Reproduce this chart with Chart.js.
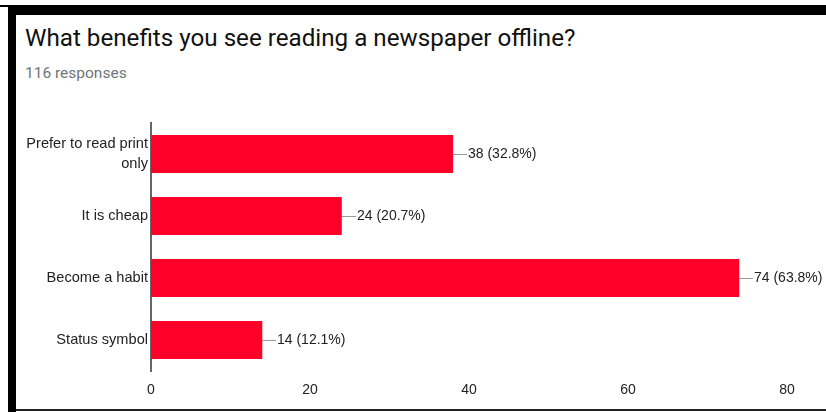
<!DOCTYPE html>
<html>
<head>
<meta charset="utf-8">
<script src="https://cdn.jsdelivr.net/npm/chart.js@4.4.0/dist/chart.umd.min.js"></script>
<style>
  html, body { margin: 0; padding: 0; background: #fff; width: 826px; height: 412px; overflow: hidden; }
  body { position: relative; }
  .frame-top { position: absolute; left: 8px; top: 5px; width: 818px; height: 10px; background: #000; }
  .frame-tick { position: absolute; left: 0; top: 5px; width: 8px; height: 2px; background: #000; }
  .frame-left { position: absolute; left: 8px; top: 5px; width: 8px; height: 407px; background: #000; }
  .frame-bottom { position: absolute; left: 16px; top: 409px; width: 810px; height: 2px; background: #222; }
  .card { position: absolute; left: 16px; top: 15px; width: 810px; height: 394px; background: #fff; border-top-left-radius: 7px; }
  .title { position: absolute; left: 25px; top: 26px; font: 400 24.2px/24px Roboto, "Noto Sans", sans-serif; color: #111; white-space: nowrap; }
  .subtitle { position: absolute; left: 25px; top: 66px; font: 400 15.5px/15.5px Roboto, "Noto Sans", sans-serif; color: #70757a; white-space: nowrap; }
  canvas { position: absolute; left: 0; top: 0; }
</style>
</head>
<body>
<div class="frame-top"></div>
<div class="frame-tick"></div>
<div class="frame-left"></div>
<div class="frame-bottom"></div>
<div class="card"></div>
<div class="title">What benefits you see reading a newspaper offline?</div>
<div class="subtitle">116 responses</div>
<canvas id="chart" width="826" height="412"></canvas>
<script>
// Survey answers and their counts
const categories = [
  ['Prefer to read print', 'only'],
  'It is cheap',
  'Become a habit',
  'Status symbol'
];
const counts = [38, 24, 74, 14];
const totalResponses = 116;
const xTicks = [0, 20, 40, 60, 80];

const BAR_RED = '#ff0029';
const TEXT = '#222222';
const FAMILY = '"Liberation Sans", Arial, sans-serif';
const LABEL_FONT = { family: FAMILY, size: 14 };
const TICK_FONT = { family: FAMILY, size: 14.6, lineHeight: 1.4 };

// Leader line plus "count (percent)" to the right of each bar
const valueLabels = {
  id: 'valueLabels',
  afterDatasetsDraw(chart) {
    const ctx = chart.ctx;
    const meta = chart.getDatasetMeta(0);
    ctx.save();
    ctx.font = `${LABEL_FONT.size}px ${LABEL_FONT.family}`;
    ctx.textBaseline = 'middle';
    ctx.textAlign = 'left';
    meta.data.forEach((bar, i) => {
      const v = counts[i];
      const pct = (v / totalResponses * 100).toFixed(1);
      const x = Math.round(bar.x);
      const y = Math.round(bar.y) + 0.5;
      ctx.strokeStyle = '#999999';
      ctx.lineWidth = 1;
      ctx.beginPath();
      ctx.moveTo(x, y);
      ctx.lineTo(x + 14, y);
      ctx.stroke();
      ctx.fillStyle = TEXT;
      ctx.fillText(`${v} (${pct}%)`, x + 15, y);
    });
    ctx.restore();
  }
};

new Chart(document.getElementById('chart'), {
  type: 'bar',
  data: {
    labels: categories,
    datasets: [{
      data: counts,
      backgroundColor: BAR_RED,
      borderWidth: 0,
      barPercentage: 0.613,
      categoryPercentage: 1.0
    }]
  },
  options: {
    indexAxis: 'y',
    responsive: false,
    animation: false,
    devicePixelRatio: 1,
    layout: { padding: { top: 123, right: 39, bottom: 0, left: 0 } },
    plugins: {
      legend: { display: false },
      tooltip: { enabled: false }
    },
    scales: {
      x: {
        min: 0,
        max: 80,
        afterBuildTicks(scale) { scale.ticks = xTicks.map(v => ({ value: v })); },
        afterFit(scale) { scale.height = 41; },
        grid: { display: false, drawTicks: false },
        border: { display: false },
        ticks: { color: TEXT, font: { family: FAMILY, size: 14 }, padding: 11, maxRotation: 0 }
      },
      y: {
        afterFit(scale) { scale.width = 151; },
        grid: { display: false, drawTicks: false },
        border: { display: true, color: '#666666', width: 2 },
        ticks: { color: TEXT, font: TICK_FONT, padding: 3 }
      }
    }
  },
  plugins: [valueLabels]
});
</script>
</body>
</html>
